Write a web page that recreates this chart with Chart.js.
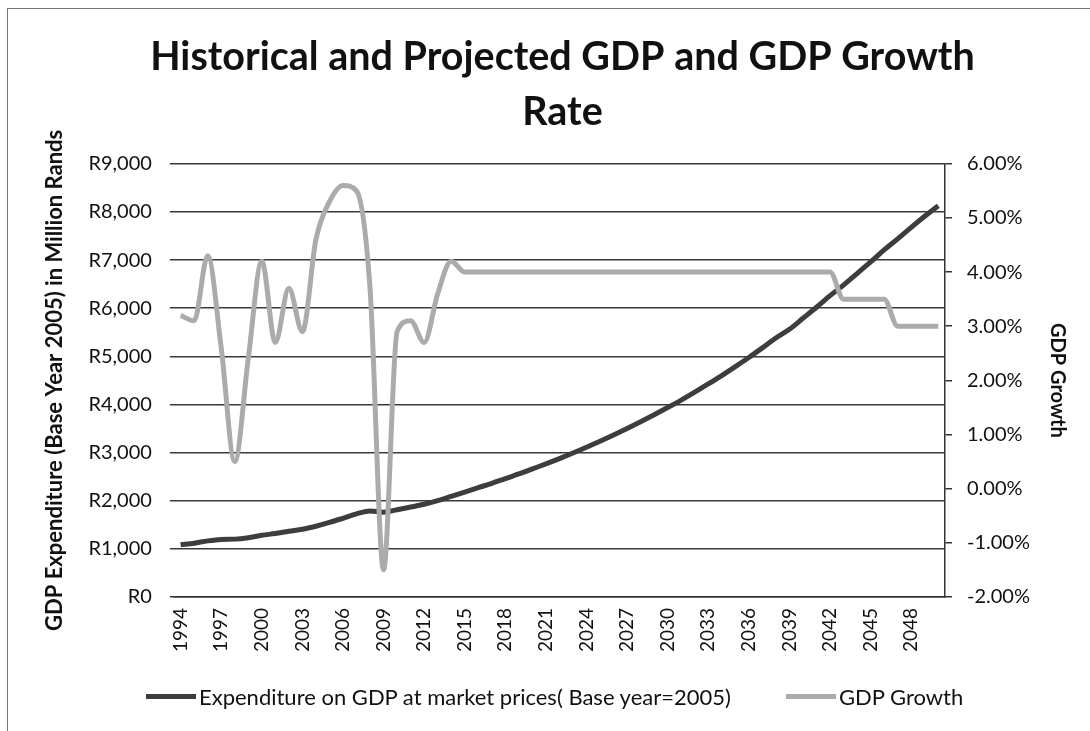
<!DOCTYPE html>
<html lang="en">
<head>
    <meta charset="UTF-8">
    <title>Historical and Projected GDP and GDP Growth Rate</title>
    <script src="https://cdn.jsdelivr.net/npm/chart.js"></script>
    <style>
        body { margin: 0; background: #fff; }
        #wrap { position: relative; width: 1090px; height: 731px; }
        #frame { position: absolute; left: 7px; top: 8px; right: 0; bottom: 0;
                 border-left: 1px solid #777; border-top: 1px solid #777; }
        .leg { position: absolute; top: 683px; display: flex; align-items: center;
               font-family: Lato, sans-serif; font-size: 22px; color: #111; }
        .leg span.mark { display: inline-block; width: 50px; height: 5px; margin-right: 3px; }
    </style>
</head>
<body>
<div id="wrap">
    <div id="frame"></div>
    <canvas id="gdpChart" width="1090" height="731"></canvas>
    <div class="leg" style="left:146px"><span class="mark" style="background:#3d3d3d"></span>Expenditure on GDP at market prices( Base year=2005)</div>
    <div class="leg" style="left:786px"><span class="mark" style="background:#ababab"></span>GDP Growth</div>
</div>

<script>
    const years = [1994, 1995, 1996, 1997, 1998, 1999, 2000, 2001, 2002, 2003,
                   2004, 2005, 2006, 2007, 2008, 2009, 2010, 2011, 2012, 2013,
                   2014, 2015, 2016, 2017, 2018, 2019, 2020, 2021, 2022, 2023,
                   2024, 2025, 2026, 2027, 2028, 2029, 2030, 2031, 2032, 2033,
                   2034, 2035, 2036, 2037, 2038, 2039, 2040, 2041, 2042, 2043,
                   2044, 2045, 2046, 2047, 2048, 2049, 2050];

    // GDP, million rands (base year 2005)
    const gdp = [1083, 1117, 1165, 1195, 1201, 1230, 1282, 1316, 1365, 1405,
                 1469, 1547, 1634, 1724, 1788, 1761, 1812, 1868, 1925, 2000,
                 2090, 2180, 2270, 2360, 2460, 2555, 2660, 2765, 2875, 2990,
                 3110, 3235, 3365, 3500, 3640, 3785, 3935, 4090, 4255, 4425,
                 4600, 4785, 4975, 5175, 5380, 5560, 5790, 6020, 6260, 6480,
                 6720, 6960, 7210, 7440, 7680, 7910, 8130];

    // GDP growth, percent
    const growth = [3.2, 3.1, 4.3, 2.6, 0.5, 2.4, 4.2, 2.7, 3.7, 2.9,
                    4.6, 5.3, 5.6, 5.5, 3.7, -1.5, 2.9, 3.1, 2.7, 3.6,
                    4.2, 4.0, 4.0, 4.0, 4.0, 4.0, 4.0, 4.0, 4.0, 4.0,
                    4.0, 4.0, 4.0, 4.0, 4.0, 4.0, 4.0, 4.0, 4.0, 4.0,
                    4.0, 4.0, 4.0, 4.0, 4.0, 4.0, 4.0, 4.0, 4.0, 3.5,
                    3.5, 3.5, 3.5, 3.0, 3.0, 3.0, 3.0];

    const font = 'Lato, sans-serif';

    const ctx = document.getElementById('gdpChart').getContext('2d');
    new Chart(ctx, {
        type: 'line',
        data: {
            labels: years,
            datasets: [{
                label: 'Expenditure on GDP at market prices( Base year=2005)',
                data: gdp,
                yAxisID: 'y',
                borderColor: '#3d3d3d',
                borderWidth: 5,
                pointRadius: 0,
                cubicInterpolationMode: 'monotone',
                order: 1
            }, {
                label: 'GDP Growth',
                data: growth,
                yAxisID: 'y1',
                borderColor: '#ababab',
                borderWidth: 5,
                pointRadius: 0,
                cubicInterpolationMode: 'monotone',
                order: 0
            }]
        },
        options: {
            responsive: false,
            animation: false,
            layout: { padding: { top: 30, left: 42, right: 7, bottom: 76 } },
            plugins: {
                legend: { display: false },
                tooltip: { enabled: false },
                title: {
                    display: true,
                    text: ['Historical and Projected GDP and GDP Growth', 'Rate'],
                    color: '#111',
                    font: { family: font, size: 39.5, weight: 'bold', lineHeight: 1.39 },
                    padding: { top: 0, bottom: 24 }
                }
            },
            scales: {
                x: {
                    offset: true,
                    grid: { display: false },
                    border: { display: true, color: '#333', width: 1.5 },
                    ticks: {
                        autoSkip: false,
                        maxRotation: 90,
                        minRotation: 90,
                        color: '#111',
                        font: { family: font, size: 19 },
                        callback: function (value, index) {
                            return index % 3 === 0 ? years[index] : '';
                        }
                    }
                },
                y: {
                    position: 'left',
                    min: 0,
                    max: 9000,
                    grid: { color: '#3a3a3a', lineWidth: 1.5, tickLength: 4 },
                    border: { display: false },
                    ticks: {
                        stepSize: 1000,
                        padding: 18,
                        color: '#111',
                        font: { family: font, size: 20 },
                        callback: v => 'R' + v.toLocaleString('en-US')
                    },
                    title: {
                        display: true,
                        text: 'GDP Expenditure (Base Year 2005) in Million Rands',
                        color: '#111',
                        font: { family: font, size: 22, weight: 'bold' },
                        padding: { top: 0, bottom: 2 }
                    }
                },
                y1: {
                    position: 'right',
                    min: -2,
                    max: 6,
                    grid: { drawOnChartArea: false, color: '#333', lineWidth: 1.5, tickLength: 7 },
                    border: { display: true, color: '#333', width: 1.5 },
                    ticks: {
                        stepSize: 1,
                        padding: 15,
                        color: '#111',
                        font: { family: font, size: 20 },
                        callback: v => v.toFixed(2) + '%'
                    },
                    title: {
                        display: true,
                        text: 'GDP Growth',
                        color: '#111',
                        font: { family: font, size: 20, weight: 'bold' },
                        padding: { top: 14, bottom: 0 }
                    }
                }
            }
        }
    });
</script>
</body>
</html>
